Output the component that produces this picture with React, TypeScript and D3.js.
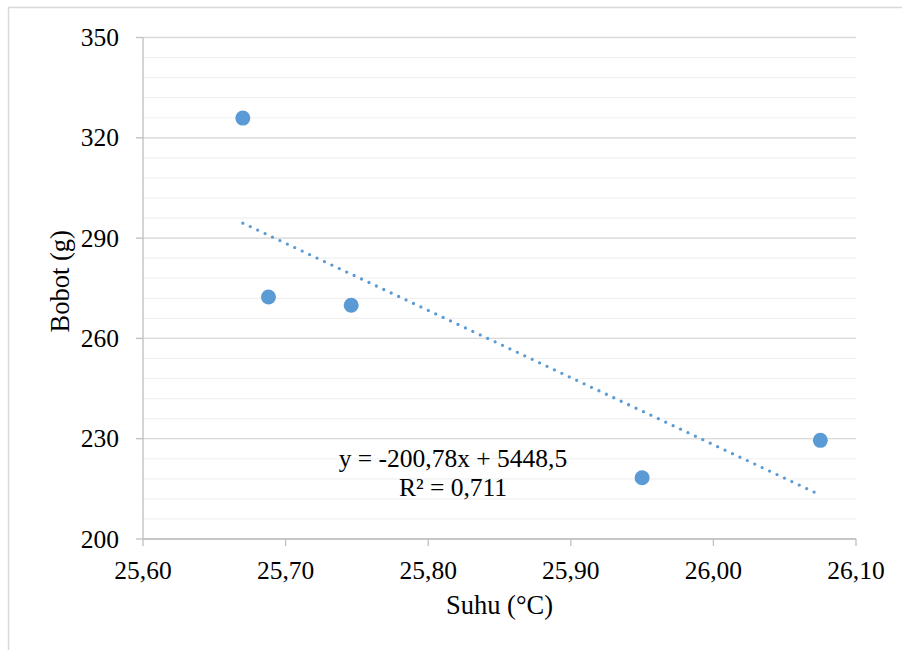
import React from "react";
import * as d3 from "d3";

const suhu = [25.67, 25.688, 25.746, 25.95, 26.075];
const bobot = [325.9, 272.4, 269.9, 218.3, 229.5];
const slope = -200.78;
const intercept = 5448.5;
const eqLabel = "y = -200,78x + 5448,5";
const r2Label = "R² = 0,711";
const xTicks = [25.6, 25.7, 25.8, 25.9, 26.0, 26.1];
const yTicks = [200, 230, 260, 290, 320, 350];
const xTitle = "Suhu (°C)";
const yTitle = "Bobot (g)";

const W = 902;
const H = 650;
const left = 143;
const right = 856;
const top = 37.5;
const bottom = 539;
const font = "'Liberation Serif', 'Times New Roman', serif";
const blue = "#5B9BD5";

export default function App() {
  const x = d3.scaleLinear().domain([25.6, 26.1]).range([left, right]);
  const y = d3.scaleLinear().domain([200, 350]).range([bottom, top]);
  const minor = d3.range(200, 350.001, 6);
  const fmt = (v: number) => v.toFixed(2).replace(".", ",");
  const x0 = d3.min(suhu) as number;
  const x1 = d3.max(suhu) as number;
  const line = d3
    .line<number>()
    .x((d) => x(d))
    .y((d) => y(slope * d + intercept));
  const eqX = 453;
  return (
    <svg
      width={W}
      height={H}
      style={{ position: "absolute", left: 0, top: 0, background: "#fff" }}
      fontFamily={font}
    >
      <rect x={8.5} y={7.5} width={W} height={H} fill="#fff" stroke="#d9d9d9" strokeWidth={1.5} />
      {minor.map((v) => (
        <line key={"m" + v} x1={left} x2={right} y1={y(v)} y2={y(v)} stroke="#f0f0f0" strokeWidth={1.2} />
      ))}
      {yTicks.map((v) => (
        <line key={"g" + v} x1={left} x2={right} y1={y(v)} y2={y(v)} stroke="#d9d9d9" strokeWidth={1.3} />
      ))}
      <line x1={left} x2={left} y1={top} y2={bottom} stroke="#bfbfbf" strokeWidth={1.3} />
      <line x1={left} x2={right} y1={bottom} y2={bottom} stroke="#bfbfbf" strokeWidth={1.3} />
      {yTicks.map((v) => (
        <line key={"yt" + v} x1={left - 7} x2={left} y1={y(v)} y2={y(v)} stroke="#bfbfbf" strokeWidth={1.3} />
      ))}
      {xTicks.map((v) => (
        <line key={"xt" + v} x1={x(v)} x2={x(v)} y1={bottom} y2={bottom + 7} stroke="#bfbfbf" strokeWidth={1.3} />
      ))}
      {yTicks.map((v) => (
        <text key={"yl" + v} x={119} y={y(v)} dy="0.34em" textAnchor="end" fontSize={25.5} fill="#000">
          {v}
        </text>
      ))}
      {xTicks.map((v) => (
        <text key={"xl" + v} x={x(v)} y={579} textAnchor="middle" fontSize={25.5} fill="#000">
          {fmt(v)}
        </text>
      ))}
      <text x={(left + right) / 2} y={614} textAnchor="middle" fontSize={26.5} fill="#000">
        {xTitle}
      </text>
      <text
        transform={`translate(69, ${(top + bottom) / 2 - 7}) rotate(-90)`}
        textAnchor="middle"
        fontSize={26.5}
        fill="#000"
      >
        {yTitle}
      </text>
      <path
        d={line([x0, x1]) as string}
        fill="none"
        stroke={blue}
        strokeWidth={3.3}
        strokeLinecap="round"
        strokeDasharray="0 8.2"
      />
      {suhu.map((v, i) => (
        <circle key={"p" + i} cx={x(v)} cy={y(bobot[i])} r={7.5} fill={blue} />
      ))}
      <text x={eqX} y={467} textAnchor="middle" fontSize={25.5} fill="#000">
        {eqLabel}
      </text>
      <text x={eqX} y={496} textAnchor="middle" fontSize={25.5} fill="#000">
        {r2Label}
      </text>
    </svg>
  );
}
